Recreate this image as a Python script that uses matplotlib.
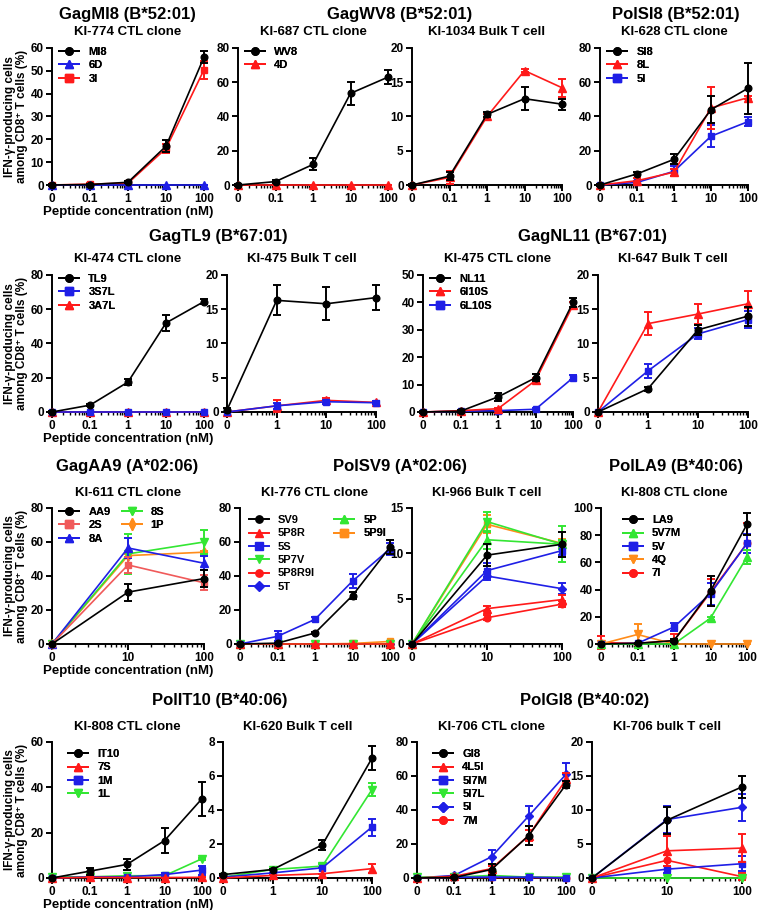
import matplotlib
matplotlib.use('Agg')
import matplotlib.pyplot as plt
from matplotlib.ticker import LogLocator, NullFormatter
from matplotlib.lines import Line2D

plt.rcParams['font.family'] = ['Liberation Sans', 'DejaVu Sans']
plt.rcParams['font.weight'] = 'bold'
plt.rcParams['axes.labelweight'] = 'bold'

BK = '#000000'; RD = '#ff1a1a'; BL = '#1f1fe6'; GR = '#33e633'; OR = '#ff8c1a'; SA = '#f05a5a'

# ---------------- data ----------------
conc5 = [0, 0.1, 1, 10, 100]
conc4 = [0, 1, 10, 100]
conc3 = [0, 10, 100]

# Row 1
mi8_labels = ['MI8', '6D', '3I']
mi8_means = [[0, 0.2, 1.2, 17, 56], [0, 0, 0, 0, 0], [0, 0.4, 0.8, 16, 50.5]]
mi8_errs = [[0.3, 0.3, 0.5, 2.5, 2.5], [0, 0, 0, 0, 0], [0.3, 0.5, 0.4, 2, 4]]

wv8_labels = ['WV8', '4D']
wv8_clone_means = [[0, 2, 12, 53.5, 63], [0, 0, 0, 0, 0]]
wv8_clone_errs = [[0.5, 1, 3.5, 6.5, 4], [0, 0, 0, 0, 0]]
wv8_bulk_means = [[0, 1.3, 10.3, 12.6, 11.8], [0, 1.1, 10, 16.7, 14.2]]
wv8_bulk_errs = [[0.2, 0.6, 0.4, 1.7, 0.8], [0, 0.9, 0.3, 0.2, 1.3]]

si8_labels = ['SI8', '8L', '5I']
si8_means = [[0, 6.5, 15, 44, 56.5], [0, 2.5, 7.5, 45, 51], [0, 1.5, 8, 28.5, 37]]
si8_errs = [[0.5, 0.8, 3, 8, 15], [0.5, 1.5, 2, 12.5, 1], [0.3, 0.8, 3, 6.5, 2.5]]

# Row 2
tl9_labels = ['TL9', '3S7L', '3A7L']
tl9_clone_means = [[0, 4, 17.5, 52, 64.5], [0, 0, 0, 0, 0], [0, 0, 0, 0, 0]]
tl9_clone_errs = [[0.5, 0.5, 2, 4.5, 1.5], [0, 0, 0, 0, 0], [0, 0, 0, 0, 0]]
tl9_bulk_means = [[0.3, 16.3, 15.8, 16.7], [0, 0.9, 1.5, 1.35], [0, 0.9, 1.7, 1.4]]
tl9_bulk_errs = [[0.3, 2.2, 2.4, 1.8], [0, 0.4, 0.3, 0.2], [0, 0.9, 0.4, 0.2]]

nl11_labels = ['NL11', '6I10S', '6L10S']
nl11_clone_means = [[0, 0.3, 5.5, 12.5, 40], [0, 0.5, 1.2, 11.5, 39], [0, 0.3, 0.5, 1, 12.5]]
nl11_clone_errs = [[0.2, 0.3, 1.5, 1.3, 1.5], [0, 0.3, 0.4, 1, 1], [0, 0.1, 0.3, 0.4, 1]]
nl11_bulk_means = [[0, 3.4, 12, 14], [0, 12.9, 14.3, 15.8], [0, 6, 11.4, 13.5]]
nl11_bulk_errs = [[0, 0.3, 0.7, 1.4], [0, 1.7, 1.5, 1.9], [0, 1, 0.8, 1.2]]

# Row 3
aa9_labels = ['AA9', '2S', '8A', '8S', '1P']
aa9_means = [[0, 30.5, 38.5], [0, 46.5, 36], [0, 56.5, 47.5], [0, 53, 60], [0, 52, 54]]
aa9_errs = [[0, 5, 5], [0, 4.5, 4.5], [0, 6, 4], [0, 12, 7], [0, 1, 1]]

sv9_labels = ['SV9', '5P8R', '5S', '5P7V', '5P8R9I', '5T', '5P', '5P9I']
sv9_clone_means = [[0, 0.5, 6.5, 28.5, 57], [0, 0, 0, 0, 0], [0, 4.5, 14.5, 37, 56],
                   [0, 0, 0, 0, 0], [0, 0, 0, 0, 0], [0, 0, 0, 0, 0], [0, 0, 0, 0, 0],
                   [0, 0, 0, 0.3, 1.5]]
sv9_clone_errs = [[0.2, 0.3, 0.8, 2, 4], [0, 0, 0, 0, 0], [0, 3, 1.2, 4, 3.5],
                  [0, 0, 0, 0, 0], [0, 0, 0, 0, 0], [0, 0, 0, 0, 0], [0, 0, 0, 0, 0],
                  [0, 0, 0, 0, 0.5]]
sv9_bulk_means = [[0, 9.8, 11], [0, 3.9, 4.9], [0, 8.1, 10.3], [0, 13.5, 11],
                  [0, 2.9, 4.4], [0, 7.5, 6.1], [0, 11.5, 11], [0, 13.2, 11.1]]
sv9_bulk_errs = [[0, 1.2, 1.4], [0, 0.3, 0.5], [0, 0.8, 0.5], [0, 1.1, 2],
                 [0, 0.3, 0.3], [0, 0.4, 0.6], [0, 1, 0.5], [0, 1, 0.5]]

la9_labels = ['LA9', '5V7M', '5V', '4Q', '7I']
la9_means = [[0, 0.5, 2.5, 39, 88], [0, 0, 0, 19, 64], [0, 0.5, 12.5, 37, 74],
             [0, 7, 0, 0, 0], [1, 0.5, 2.5, 38, 74]]
la9_errs = [[0, 0.3, 1, 11, 8], [0, 0, 0, 1, 5], [0, 0.5, 3, 8, 7],
            [0, 8, 0, 0, 0], [5, 0.5, 5, 10, 15]]

# Row 4
it10_labels = ['IT10', '7S', '1M', '1L']
it10_clone_means = [[0, 3, 6, 16.5, 35], [0, 0.3, 0.2, 0.2, 0.3], [0, 0.5, 0.5, 1.5, 3.5],
                    [0.5, 0.5, 1, 1, 8.5]]
it10_clone_errs = [[0, 1.5, 2.3, 5.5, 7.5], [0, 0, 0, 0, 0], [0, 0, 0, 0.5, 2],
                   [0, 0, 0, 0, 0.5]]
it10_bulk_means = [[0.2, 0.5, 1.95, 7.05], [0, 0.15, 0.25, 0.55], [0.05, 0.3, 0.6, 3],
                   [0.05, 0.5, 0.7, 5.2]]
it10_bulk_errs = [[0.05, 0.05, 0.3, 0.7], [0, 0, 0, 0.25], [0, 0, 0, 0.5],
                  [0, 0.05, 0.1, 0.4]]

gi8_labels = ['GI8', '4L5I', '5I7M', '5I7L', '5I', '7M']
gi8_clone_means = [[0, 0.3, 5, 25, 55], [0, 1, 5.5, 25, 58], [0, 0.5, 0.5, 0.5, 0],
                   [0.5, 0.5, 1.5, 0.5, 0.5], [0, 1.5, 12.5, 36.5, 61], [0, 0.5, 0.3, 0.3, 0.2]]
gi8_clone_errs = [[0, 0.3, 3, 5.5, 2], [0, 1, 1.5, 3.5, 4], [0, 0, 0, 0.3, 0],
                  [0, 0, 0, 0, 0], [0, 1, 4, 6, 6.5], [0, 0, 0, 0, 0]]
gi8_bulk_means = [[0, 8.5, 13.4], [0, 4, 4.4], [0, 1.3, 2.1], [0, 0, 0],
                  [0, 8.6, 10.4], [0, 2.6, 0.2]]
gi8_bulk_errs = [[0, 2, 1.6], [0, 2.2, 2], [0, 0.5, 1.1], [0, 0, 0],
                 [0, 2, 2], [0, 0.8, 0.5]]

# styles (color, marker)
sty_mi8 = [(BK, 'o'), (BL, '^'), (RD, 's')]
sty_wv8 = [(BK, 'o'), (RD, '^')]
sty_si8 = [(BK, 'o'), (RD, '^'), (BL, 's')]
sty_tl9 = [(BK, 'o'), (BL, 's'), (RD, '^')]
sty_nl11 = [(BK, 'o'), (RD, '^'), (BL, 's')]
sty_aa9 = [(BK, 'o'), (SA, 's'), (BL, '^'), (GR, 'v'), (OR, 'd')]
sty_sv9 = [(BK, 'o'), (RD, '^'), (BL, 's'), (GR, 'v'), (RD, 'o'), (BL, 'D'), (GR, '^'), (OR, 's')]
sty_la9 = [(BK, 'o'), (GR, '^'), (BL, 's'), (OR, 'v'), (RD, 'o')]
sty_it10 = [(BK, 'o'), (RD, '^'), (BL, 's'), (GR, 'v')]
sty_gi8 = [(BK, 'o'), (RD, '^'), (BL, 's'), (GR, 'v'), (BL, 'D'), (RD, 'o')]

MS = {'o': 4.8, '^': 5.8, 's': 4.8, 'v': 5.8, 'D': 4.3, 'd': 5.3}

fig = plt.figure(figsize=(7.6, 9.1), dpi=100)
W, H = 760.0, 910.0


def fmt(c):
    if c == 0:
        return '0'
    if c < 1:
        return str(c)
    return str(int(c))


def panel(x0, x1, ytop, ybot, conc, labels, means, errs, styles, ymax, ystep, subtitle):
    ax = fig.add_axes([x0 / W, 1 - ybot / H, (x1 - x0) / W, (ybot - ytop) / H])
    zero = min(c for c in conc if c > 0) / 10.0
    xs = [c if c > 0 else zero for c in conc]
    n = len(labels)
    handles = []
    for i in range(n - 1, -1, -1):
        col, mk = styles[i]
        ax.errorbar(xs, means[i], yerr=errs[i], fmt='none', ecolor=col, elinewidth=1.4,
                    capsize=3, capthick=1.4, clip_on=False, zorder=3 + (n - i) * 0.1)
        ax.plot(xs, means[i], color=col, marker=mk, ms=MS[mk], lw=1.2, clip_on=False,
                zorder=3.05 + (n - i) * 0.1)
    for i in range(n):
        col, mk = styles[i]
        handles.append(Line2D([], [], color=col, marker=mk, ms=MS[mk] + 0.5, lw=1.4, label=labels[i]))
    ax.set_xscale('log')
    ax.set_xlim(zero, max(conc))
    ax.set_ylim(0, ymax)
    ax.set_yticks([v * ystep for v in range(int(round(ymax / ystep)) + 1)])
    ax.set_xticks(xs)
    ax.set_xticklabels([fmt(c) for c in conc])
    ax.xaxis.set_minor_locator(LogLocator(base=10, subs=range(2, 10), numticks=20))
    ax.xaxis.set_minor_formatter(NullFormatter())
    for s in ['top', 'right']:
        ax.spines[s].set_visible(False)
    for s in ['left', 'bottom']:
        ax.spines[s].set_linewidth(1.4)
    ax.tick_params(axis='both', which='major', length=4, width=1.4, labelsize=8.5, pad=2)
    ax.tick_params(axis='x', which='minor', length=2.2, width=1.0)
    for lab in ax.get_xticklabels() + ax.get_yticklabels():
        lab.set_fontweight('bold')
    ax.set_title(subtitle, fontsize=9.5, fontweight='bold', pad=9)
    return ax, handles


def add_legend(ax, handles, loc=(0.02, 1.04), ncol=1):
    lg = ax.legend(handles=handles, loc='upper left', bbox_to_anchor=loc, frameon=False,
                   prop={'weight': 'bold', 'size': 8}, handlelength=1.8, handletextpad=0.8,
                   labelspacing=0.3, ncol=ncol, columnspacing=1.0, borderaxespad=0)
    ax.add_artist(lg)
    return lg


def ylabel_row(ytop, ybot):
    yc = 1 - (ytop + ybot) / 2 / H
    fig.text(16 / W, yc, 'IFN-γ-producing cells\namong CD8⁺ T cells (%)', rotation=90,
             ha='center', va='center', fontsize=8.5, fontweight='bold', linespacing=1.1)


def xlabel_row(ybot):
    fig.text(128 / W, 1 - (ybot + 27) / H, 'Peptide concentration (nM)', ha='center',
             va='center', fontsize=9.5, fontweight='bold')


def main_title(xc, y, text):
    fig.text(xc / W, 1 - y / H, text, ha='center', va='center', fontsize=12, fontweight='bold')


# ---------------- Row 1 ----------------
r1 = (48, 185)
ax, h = panel(52, 204, *r1, conc5, mi8_labels, mi8_means, mi8_errs, sty_mi8, 60, 10, 'KI-774 CTL clone')
add_legend(ax, h)
ax, h = panel(238, 388, *r1, conc5, wv8_labels, wv8_clone_means, wv8_clone_errs, sty_wv8, 80, 20, 'KI-687 CTL clone')
add_legend(ax, h)
ax, h = panel(412, 562, *r1, conc5, wv8_labels, wv8_bulk_means, wv8_bulk_errs, sty_wv8, 20, 5, 'KI-1034 Bulk T cell')
ax, h = panel(600, 748, *r1, conc5, si8_labels, si8_means, si8_errs, sty_si8, 80, 20, 'KI-628 CTL clone')
add_legend(ax, h)
main_title(127, 14, 'GagMI8 (B*52:01)')
main_title(400, 14, 'GagWV8 (B*52:01)')
main_title(676, 14, 'PolSI8 (B*52:01)')
ylabel_row(*r1)
xlabel_row(r1[1])

# ---------------- Row 2 ----------------
r2 = (275, 412)
ax, h = panel(52, 204, *r2, conc5, tl9_labels, tl9_clone_means, tl9_clone_errs, sty_tl9, 80, 20, 'KI-474 CTL clone')
add_legend(ax, h)
ax, h = panel(227, 376, *r2, conc4, tl9_labels, tl9_bulk_means, tl9_bulk_errs, sty_tl9, 20, 5, 'KI-475 Bulk T cell')
ax, h = panel(423, 573, *r2, conc5, nl11_labels, nl11_clone_means, nl11_clone_errs, sty_nl11, 50, 10, 'KI-475 CTL clone')
add_legend(ax, h)
ax, h = panel(598, 748, *r2, conc4, nl11_labels, nl11_bulk_means, nl11_bulk_errs, sty_nl11, 20, 5, 'KI-647 Bulk T cell')
main_title(218, 237, 'GagTL9 (B*67:01)')
main_title(593, 237, 'GagNL11 (B*67:01)')
ylabel_row(*r2)
xlabel_row(r2[1])

# ---------------- Row 3 ----------------
r3 = (508, 644)
ax, h = panel(52, 204, *r3, conc3, aa9_labels, aa9_means, aa9_errs, sty_aa9, 80, 20, 'KI-611 CTL clone')
add_legend(ax, h, ncol=2)
ax, h = panel(240, 390, *r3, conc5, sv9_labels, sv9_clone_means, sv9_clone_errs, sty_sv9, 80, 20, 'KI-776 CTL clone')
add_legend(ax, h[:6], loc=(0.03, 0.98))
add_legend(ax, h[6:], loc=(0.6, 0.98))
ax, h = panel(412, 562, *r3, conc3, sv9_labels, sv9_bulk_means, sv9_bulk_errs, sty_sv9, 15, 5, 'KI-966 Bulk T cell')
ax, h = panel(601, 747, *r3, conc5, la9_labels, la9_means, la9_errs, sty_la9, 100, 20, 'KI-808 CTL clone')
add_legend(ax, h, loc=(0.12, 0.98))
main_title(127, 467, 'GagAA9 (A*02:06)')
main_title(400, 467, 'PolSV9 (A*02:06)')
main_title(676, 467, 'PolLA9 (B*40:06)')
ylabel_row(*r3)
xlabel_row(r3[1])

# ---------------- Row 4 ----------------
r4 = (742, 878)
ax, h = panel(52, 202, *r4, conc5, it10_labels, it10_clone_means, it10_clone_errs, sty_it10, 60, 20, 'KI-808 CTL clone')
add_legend(ax, h, loc=(0.08, 0.98))
ax, h = panel(223, 372, *r4, conc4, it10_labels, it10_bulk_means, it10_bulk_errs, sty_it10, 8, 2, 'KI-620 Bulk T cell')
ax, h = panel(417, 566, *r4, conc5, gi8_labels, gi8_clone_means, gi8_clone_errs, sty_gi8, 80, 20, 'KI-706 CTL clone')
add_legend(ax, h, loc=(0.08, 0.98))
ax, h = panel(592, 742, *r4, conc3, gi8_labels, gi8_bulk_means, gi8_bulk_errs, sty_gi8, 20, 5, 'KI-706 bulk T cell')
main_title(220, 701, 'PolIT10 (B*40:06)')
main_title(585, 701, 'PolGI8 (B*40:02)')
ylabel_row(*r4)
xlabel_row(r4[1])

fig.savefig('out.png', dpi=100, facecolor='white')
